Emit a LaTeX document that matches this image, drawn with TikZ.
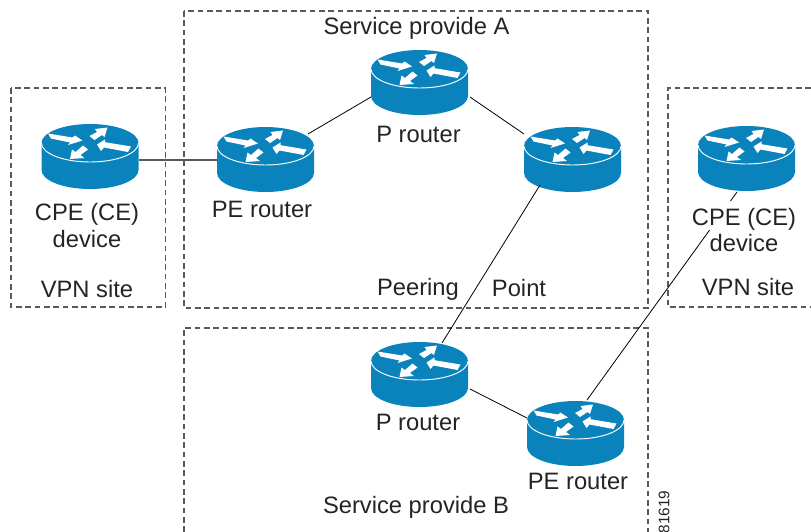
\documentclass[tikz,border=0pt]{standalone}
\usepackage{fontspec}
\setmainfont{Liberation Sans}
\usetikzlibrary{calc}
\definecolor{routerblue}{HTML}{0A83BD}
\definecolor{ink}{gray}{0.14}
\tikzset{
  routerbox/.style={draw=none,fill=none,inner sep=0pt,minimum width=72.75pt,minimum height=48.75pt},
  boxline/.style={draw=black!65,line width=0.8pt,dash pattern=on 4.2pt off 2.8pt},
  link/.style={draw=black,line width=0.6pt},
  lbl/.style={text=ink,inner sep=0pt,font=\fontsize{17.8pt}{20pt}\selectfont},
  lblw/.style={lbl,fill=white,anchor=base},
  whitearrow/.style={fill=white,draw=none},
}
\newcommand{\routerat}[3]{%
  \begin{scope}[shift={(#2,#3)}]
    \fill[routerblue] (-48.5,0) -- (-48.5,27) arc[start angle=180,end angle=0,x radius=48.5,y radius=19] -- (48.5,0) arc[start angle=0,end angle=-180,x radius=48.5,y radius=19] -- cycle;
    \draw[white,line width=0.7pt] (-48.5,0) arc[start angle=180,end angle=0,x radius=48.5,y radius=19];
    \fill[whitearrow] (-42,-9.5) -- (-17.5,-5.5) -- (-15,-7.5) -- (-7.5,-2.5) -- (-22,2) -- (-20,-0.5) -- (-39,-4.5) -- cycle;
    \fill[whitearrow] (-0.5,-7) -- (7,-11) -- (5,-14) -- (17.5,-15.5) -- (14.5,-6) -- (12,-8) -- (4.5,-3) -- cycle;
    \fill[whitearrow] (7,1.5) -- (15,-3.5) -- (15,-0.8) -- (41,3.5) -- (38,9) -- (14,4.5) -- (11,8) -- cycle;
    \fill[whitearrow] (-20,16) -- (-18,6.5) -- (-14.5,9) -- (-7,2.5) -- (-2,6.5) -- (-9.5,12) -- (-5.5,15) -- cycle;
  \end{scope}
  \node[routerbox] (#1) at (#2,#3+13.5) {};
}
\begin{document}
\begin{tikzpicture}[x=0.75pt,y=-0.75pt]
\useasboundingbox (0,0) rectangle (811,532);
% dashed regions
\draw[boxline] (11,88) rectangle (165.5,307);
\draw[boxline] (184,11) rectangle (648,308);
\draw[boxline] (811,88) -- (668,88) -- (668,307) -- (811,307);
\draw[boxline] (184,532) -- (184,328) -- (648,328) -- (648,532);
% routers
\routerat{ceL}{90}{143}
\routerat{peA}{265.5}{146}
\routerat{pA}{419.5}{69}
\routerat{rA}{572.5}{146}
\routerat{ceR}{746.5}{145}
\routerat{pB}{419.5}{361}
\routerat{peB}{575.5}{420}
% connectors
\draw[link,draw=black!65,line width=0.8pt] ([shift={(49,3.5)}]ceL.center) -- ([shift={(-49,0.5)}]peA.center);
\draw[link] ([shift={(42.5,-25.5)}]peA.center) -- ([shift={(-48.5,14.5)}]pA.center);
\draw[link] ([shift={(50.5,14.5)}]pA.center) -- ([shift={(-48.5,-25.5)}]rA.center);
\draw[link] ([shift={(-32.5,25.5)}]rA.center) -- ([shift={(22.5,-31.5)}]pB.center);
\draw[link] ([shift={(50.5,14.5)}]pB.center) -- ([shift={(-48.5,-15.5)}]peB.center);
\draw[link] ([shift={(-9.5,33.5)}]ceR.center) -- ([shift={(11.5,-33.5)}]peB.center);
% labels
\node[lbl] (t1) at (416.5,28) {Service provide A};
\node[lbl] (t2) at (418.5,134.5) {P router};
\node[lbl] (t3) at (87,214) {CPE (CE)};
\node[lbl] (t4) at (87,239) {device};
\node[lbl] (t5) at (87,289.5) {VPN site};
\node[lbl] (t6) at (262,209.5) {PE router};
\node[lbl] (t7) at (418,289) {Peering};
\node[lbl] (t8) at (519,288.5) {Point};
\node[lblw] (t9) at (744,225) {\rule[-3.75pt]{0pt}{21.75pt}CPE (CE)};
\node[lbl] (t10) at (744,243) {device};
\node[lbl] (t11) at (748,287.5) {VPN site};
\node[lbl] (t12) at (418,422.5) {P router};
\node[lbl] (t13) at (578,481.5) {PE router};
\node[lbl] (t14) at (416,507) {Service provide B};
\node[lbl,font=\fontsize{11.5pt}{13pt}\selectfont,rotate=90] (t15) at (664,512) {81619};
\end{tikzpicture}
\end{document}
